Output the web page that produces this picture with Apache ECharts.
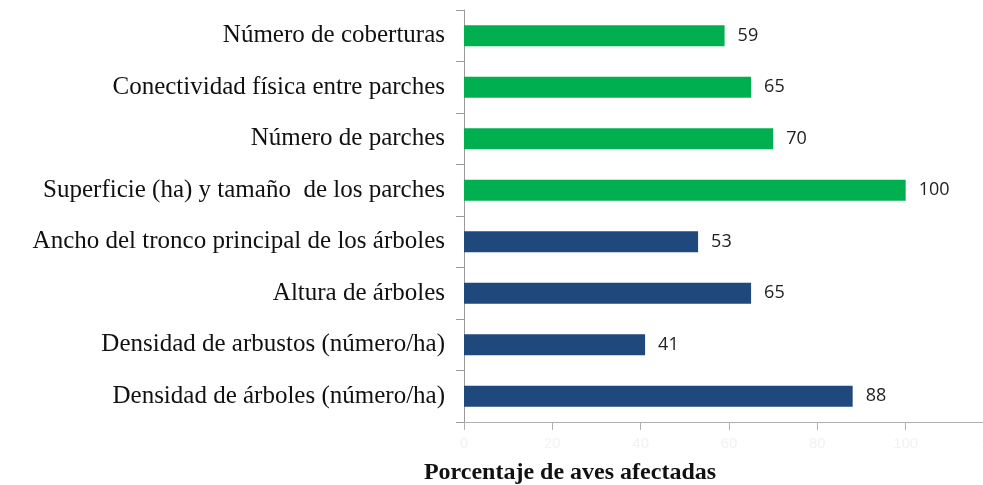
<!DOCTYPE html>
<html>
<head>
<meta charset="utf-8">
<script src="https://cdn.jsdelivr.net/npm/echarts@6/dist/echarts.min.js"></script>
<style>
  html, body { margin: 0; padding: 0; background: #fff; }
  #main { width: 983px; height: 485px; }
</style>
</head>
<body>
<div id="main"></div>
<script>
// categorias de arriba hacia abajo
var categorias = [
    'Número de coberturas',
    'Conectividad física entre parches',
    'Número de parches',
    'Superficie (ha) y tamaño  de los parches',
    'Ancho del tronco principal de los árboles',
    'Altura de árboles',
    'Densidad de arbustos (número/ha)',
    'Densidad de árboles (número/ha)'
]
var porcentajes = [59, 65, 70, 100, 53, 65, 41, 88]
// 'paisaje' = verde, 'habitat' = azul
var grupos = ['paisaje', 'paisaje', 'paisaje', 'paisaje', 'habitat', 'habitat', 'habitat', 'habitat']
var colores = { paisaje: '#00b050', habitat: '#1f497d' }
var ticksX = [0, 20, 40, 60, 80, 100, 120]

var myChart = echarts.init(document.getElementById('main'))

var option = {
    backgroundColor: '#fff',
    animation: false,
    title: {
        text: 'Porcentaje de aves afectadas',
        left: 565,
        top: 456,
        textAlign: 'center',
        textStyle: {
            fontFamily: 'Liberation Serif',
            fontWeight: 'bold',
            fontSize: 24,
            color: '#111'
        }
    },
    grid: {
        left: 464,
        top: 10,
        bottom: 63,
        width: 530,
        outerBoundsMode: 'none'
    },
    xAxis: {
        type: 'value',
        min: ticksX[0],
        max: ticksX[ticksX.length - 1],
        interval: 20,
        axisLine: { show: true, lineStyle: { color: '#b0b0b0', width: 1 } },
        axisTick: { show: true, length: 8, lineStyle: { color: '#b0b0b0' } },
        axisLabel: { color: '#f2f2f2', fontSize: 15, margin: 14 },
        splitLine: { show: false }
    },
    yAxis: {
        type: 'category',
        inverse: true,
        data: categorias,
        axisLine: { show: true, lineStyle: { color: '#9a9a9a', width: 1 } },
        axisTick: { show: true, length: 8, lineStyle: { color: '#9a9a9a' } },
        axisLabel: {
            fontFamily: 'Liberation Serif',
            fontSize: 25,
            color: '#111',
            margin: 19
        }
    },
    series: [{
        type: 'bar',
        barWidth: 21,
        data: porcentajes.map((v, i) => ({
            value: v,
            itemStyle: { color: colores[grupos[i]] }
        })),
        label: {
            show: true,
            position: 'right',
            distance: 13,
            fontFamily: 'Open Sans',
            fontSize: 18,
            color: '#222'
        }
    }]
}

myChart.setOption(option)
</script>
</body>
</html>
